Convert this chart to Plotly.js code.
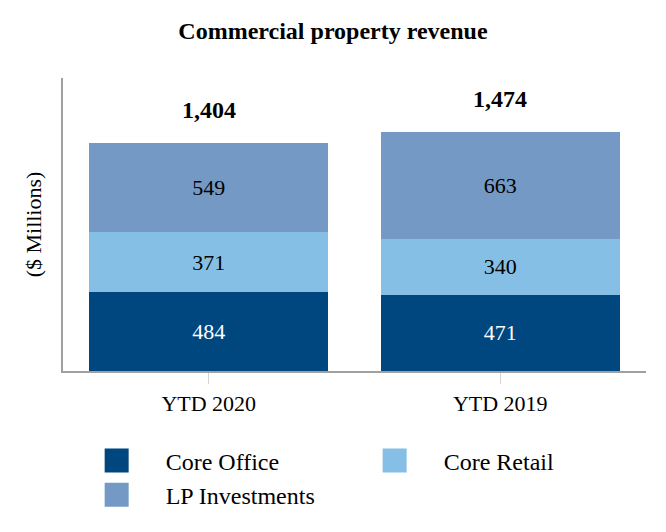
<!DOCTYPE html>
<html>
<head>
<meta charset="utf-8">
<script src="https://cdn.plot.ly/plotly-3.0.1.min.js"></script>
<style>html,body{margin:0;padding:0;background:#fff;}</style>
</head>
<body>
<div id="chart" style="width:666px;height:532px;"></div>
<script>
const categories = ["YTD 2020", "YTD 2019"];
const coreOffice = [484, 471];
const coreRetail = [371, 340];
const lpInvestments = [549, 663];
const totals = [1404, 1474];
const totalLabels = ["1,404", "1,474"];

const FONT = "Liberation Serif, Times New Roman, serif";

function barTrace(name, values, color, textColor) {
  return {
    type: "bar",
    name: name,
    x: categories,
    y: values,
    text: values.map(String),
    textposition: "inside",
    insidetextanchor: "middle",
    textangle: 0,
    textfont: {family: FONT, size: 22, color: textColor},
    marker: {color: color, line: {width: 0}},
    hoverinfo: "skip"
  };
}

const data = [
  barTrace("Core Office", coreOffice, "#00467f", "#ffffff"),
  barTrace("Core Retail", coreRetail, "#86bfe6", "#000000"),
  barTrace("LP Investments", lpInvestments, "#7399c4", "#000000")
];

const layout = {
  width: 666,
  height: 532,
  paper_bgcolor: "#ffffff",
  plot_bgcolor: "#ffffff",
  font: {family: FONT, color: "#000000", size: 22},
  barmode: "stack",
  bargap: 0.18,
  margin: {l: 63, r: 20, t: 78, b: 161},
  title: {
    text: "<b>Commercial property revenue</b>",
    font: {family: FONT, size: 24, color: "#000000"},
    x: 0.5, xanchor: "center",
    y: 1 - 31 / 532, yref: "container", yanchor: "middle"
  },
  xaxis: {
    type: "category",
    showline: true, linecolor: "#a0a0a0", linewidth: 2,
    showgrid: false, zeroline: false,
    ticks: "outside", ticklen: 11, tickwidth: 1, tickcolor: "#d4d4d4",
    ticklabelstandoff: 1,
    tickfont: {family: FONT, size: 22, color: "#000000"},
    fixedrange: true
  },
  yaxis: {
    range: [0, 1805],
    showline: true, linecolor: "#a0a0a0", linewidth: 2,
    showgrid: false, zeroline: false,
    showticklabels: false, ticks: "",
    title: {text: "($ Millions)", font: {family: FONT, size: 22, color: "#000000"}, standoff: 13},
    fixedrange: true
  },
  showlegend: true,
  legend: {
    orientation: "h",
    traceorder: "normal",
    x: 0.008, xref: "paper", xanchor: "left",
    y: -0.23, yanchor: "top",
    entrywidth: 175, entrywidthmode: "pixels",
    itemwidth: 88,
    font: {family: FONT, size: 24, color: "#000000"},
    bgcolor: "rgba(0,0,0,0)"
  },
  annotations: categories.map((c, i) => ({
    x: c, y: totals[i], xref: "x", yref: "y",
    text: "<b>" + totalLabels[i] + "</b>",
    showarrow: false, yanchor: "bottom", yshift: 18,
    font: {family: FONT, size: 24, color: "#000000"}
  }))
};

Plotly.newPlot("chart", data, layout, {displayModeBar: false, staticPlot: true}).then(function () {
  document.querySelectorAll(".legendpoints path").forEach(function (p) {
    p.setAttribute("d", "M12,12H-12V-12H12Z");
  });
});
</script>
</body>
</html>
